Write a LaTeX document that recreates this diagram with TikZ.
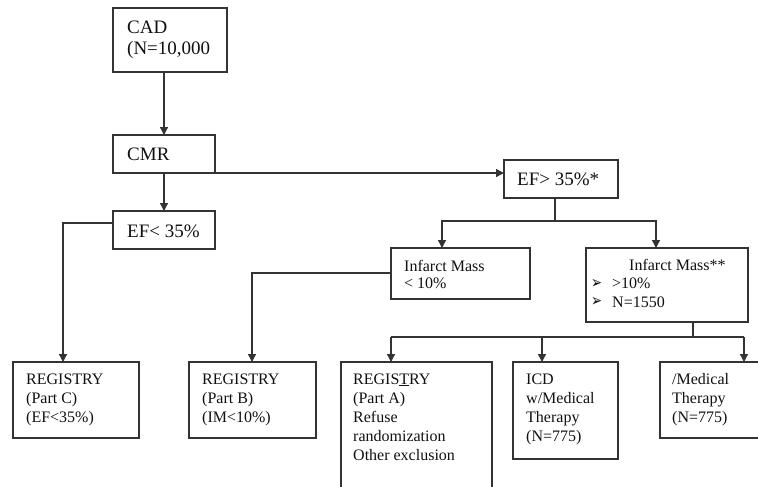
\documentclass[tikz,border=0pt]{standalone}
\usepackage{graphicx}
\usepackage{fontspec}
\setmainfont{Liberation Serif}
\newfontfamily\symfont{DejaVu Sans}
\usetikzlibrary{arrows.meta}
\definecolor{ln}{HTML}{333333}
\definecolor{tx}{HTML}{111111}
\newcommand{\arrbullet}{\makebox[21pt][l]{\raisebox{0.5pt}{\scalebox{1.2}[1.55]{\symfont\fontsize{11}{11}\selectfont ➢}}}}
\begin{document}
\begin{tikzpicture}[x=1pt,y=-1pt,
  box/.style={draw=ln,line width=1.3pt,inner sep=0pt,outer sep=0pt,anchor=north west,fill=white},
  lbl/.style={anchor=north west,inner sep=0pt,align=left,text=tx,font=\fontsize{16}{19}\selectfont},
  biglbl/.style={lbl,font=\fontsize{19}{21}\selectfont},
  conn/.style={draw=ln,line width=1.3pt},
  arr/.style={conn,-{Triangle[length=8pt,width=8pt]}}]
\useasboundingbox (0,0) rectangle (758,487);
\clip (0,0) rectangle (758,487);
% boxes
\node[box,minimum width=114pt,minimum height=64pt] (cad) at (113,8) {};
\node[box,minimum width=102pt,minimum height=38pt] (cmr) at (113,135) {};
\node[box,minimum width=102pt,minimum height=38pt] (efl) at (113,211) {};
\node[box,minimum width=114pt,minimum height=38pt] (efg) at (504,160) {};
\node[box,minimum width=126pt,minimum height=76pt] (regc) at (13,362) {};
\node[box,minimum width=127pt,minimum height=76pt] (regb) at (189,362) {};
\node[box,minimum width=139pt,minimum height=51pt] (ima) at (391,248) {};
\node[box,minimum width=162pt,minimum height=74pt] (imb) at (586,248) {};
\node[box,minimum width=151pt,minimum height=150pt] (rega) at (341,362) {};
\node[box,minimum width=105pt,minimum height=97pt] (icd) at (513,362) {};
\node[box,minimum width=120pt,minimum height=76pt] (med) at (660,362) {};
% texts
\node[biglbl] (cadt) at (127,18.3) {\strut CAD\\(N=10,000};
\node[biglbl] (cmrt) at (127,145.3) {\strut CMR};
\node[biglbl] (eflt) at (127,222.3) {\strut EF< 35\%};
\node[biglbl] (efgt) at (517,170.3) {\strut EF> 35\%*};
\node[lbl] (regct) at (26,370.7) {\strut REGISTRY\\(Part C)\\(EF<35\%)};
\node[lbl] (regbt) at (202,370.7) {\strut REGISTRY\\(Part B)\\(IM<10\%)};
\node[lbl,font=\fontsize{16}{17.7}\selectfont] (imat) at (404,258.6) {\strut Infarct Mass\\< 10\%};
\node[lbl,font=\fontsize{16}{18.5}\selectfont] (imbt) at (591,257.1) {\strut\hspace*{38pt}Infarct Mass**\\\arrbullet>10\%\\\arrbullet N=1550};
\node[lbl] (regat) at (353,370.7) {\strut REGIS\underline{T}RY\\(Part A)\\Refuse\\randomization\\Other exclusion};
\node[lbl] (icdt) at (526,370.7) {\strut ICD\\w/Medical\\Therapy\\(N=775)};
\node[lbl] (medt) at (672,370.7) {\strut /Medical\\Therapy\\(N=775)};
% connectors
\draw[arr] (cad.south -| cmr.north) -- (cmr.north);
\draw[arr] (cmr.south) -- (efl.north);
\draw[arr] (cmr.south east) -- (cmr.south east -| efg.west);
\coordinate (bC) at (63,223);
\draw[arr] (efl.west |- bC) -- (bC) -- (bC |- regc.north);
\coordinate (jG) at (555,221);
\coordinate (aIMA) at (442,221);
\coordinate (aIMB) at (656,221);
\draw[conn] (jG |- efg.south) -- (jG);
\draw[arr] (jG) -- (aIMA) -- (aIMA |- ima.north);
\draw[arr] (jG) -- (aIMB) -- (aIMB |- imb.north);
\coordinate (bB) at (252,273);
\draw[arr] (ima.west |- bB) -- (bB) -- (bB |- regb.north);
\coordinate (jB) at (693,337);
\coordinate (aA) at (391,337);
\coordinate (aI) at (542,337);
\coordinate (aM) at (744,337);
\draw[conn] (jB |- imb.south) -- (jB);
\draw[conn] (aA) -- (aM);
\draw[arr] (aA) -- (aA |- rega.north);
\draw[arr] (aI) -- (aI |- icd.north);
\draw[arr] (aM) -- (aM |- med.north);
\end{tikzpicture}
\end{document}
